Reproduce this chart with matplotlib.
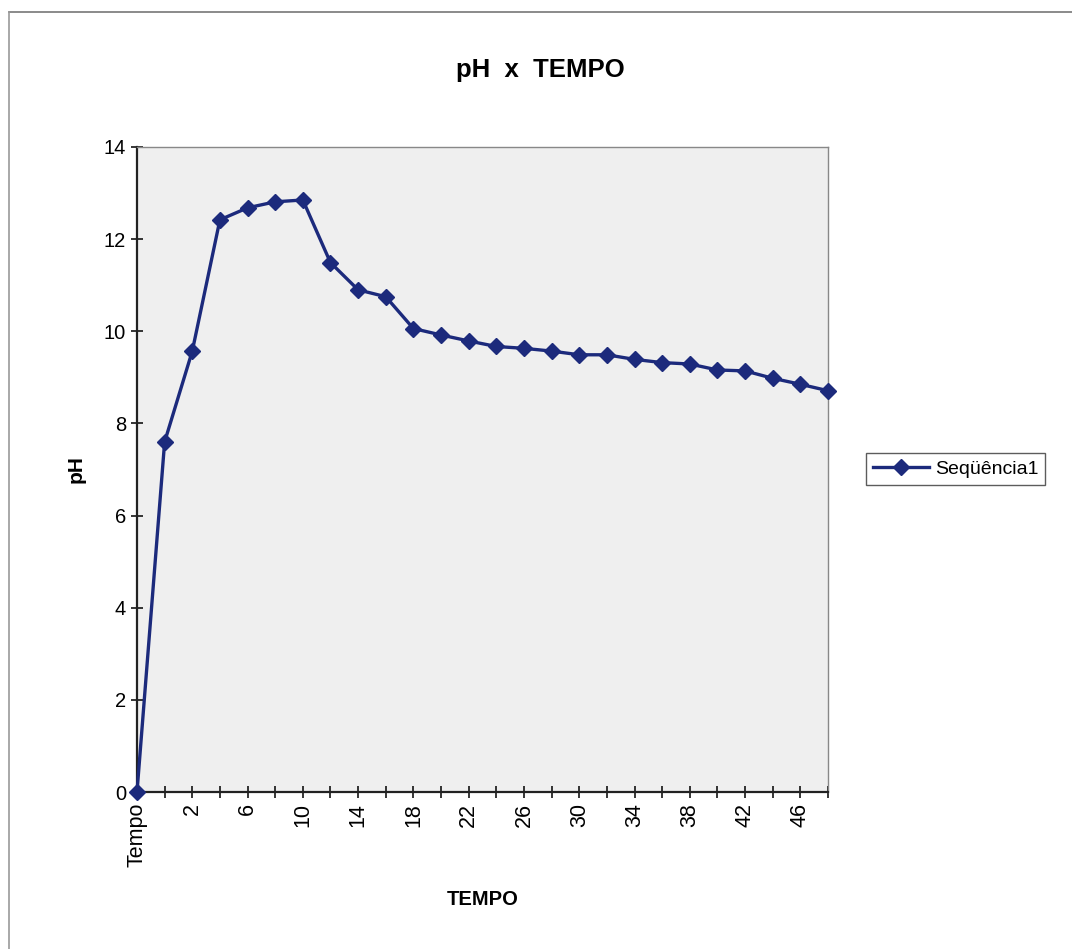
import matplotlib
matplotlib.use("Agg")
import matplotlib.pyplot as plt
from matplotlib.lines import Line2D

plt.rcParams['font.family'] = ['Liberation Sans', 'DejaVu Sans']

# Categories: header cell followed by time readings
categories = ["Tempo"] + [str(t) for t in range(0, 50, 2)]
ph_values = [0.0, 7.60, 9.57, 12.42, 12.68, 12.81, 12.85, 11.49, 10.90, 10.75,
             10.06, 9.92, 9.79, 9.67, 9.63, 9.57, 9.49, 9.49, 9.39, 9.32,
             9.29, 9.16, 9.14, 8.98, 8.85, 8.71]
series_name = "Seqüência1"
y_ticks = [0, 2, 4, 6, 8, 10, 12, 14]

W, H = 1072, 949
fig = plt.figure(figsize=(W / 100, H / 100), dpi=100)
fig.patch.set_facecolor("white")

ax = fig.add_axes([137 / W, 1 - 792 / H, (828 - 137) / W, (792 - 147) / H])
ax.set_facecolor("#efefef")

x = list(range(len(categories)))
line_color = "#1c2a7c"
ax.plot(x, ph_values, color=line_color, lw=2.4, marker="D", markersize=8,
        markerfacecolor=line_color, markeredgecolor=line_color,
        label=series_name, clip_on=False, zorder=5)

ax.set_xlim(0, len(categories) - 1)
ax.set_ylim(0, 14)
ax.set_yticks(y_ticks)
ax.set_yticklabels([str(v) for v in y_ticks])
ax.set_xticks(x)
ax.set_xticklabels([c if i % 2 == 0 else "" for i, c in enumerate(categories)],
                   rotation=90)

ax.tick_params(axis="both", direction="inout", length=8, width=1.1,
               colors="black")
ax.tick_params(axis="x", pad=4, labelsize=15.5)
ax.tick_params(axis="y", pad=4, labelsize=14.5)

for side in ("left", "bottom"):
    ax.spines[side].set_color("#222222")
    ax.spines[side].set_linewidth(1.6)
for side in ("top", "right"):
    ax.spines[side].set_color("#888888")
    ax.spines[side].set_linewidth(1.0)

ax.set_ylabel("pH", fontsize=15, fontweight="bold", labelpad=13)
ax.set_xlabel("TEMPO", fontsize=14.5, fontweight="bold", labelpad=16)

fig.text(540 / W, 1 - 70 / H, "pH  x  TEMPO", fontsize=18.5, fontweight="bold",
         ha="center", va="center")

leg = fig.legend(handles=[Line2D([0], [0], color=line_color, lw=2.4, marker="D",
                                 markersize=8)],
                 labels=[series_name], loc="center left",
                 bbox_to_anchor=(866 / W, 1 - 469 / H), fontsize=14,
                 frameon=True, fancybox=False, handlelength=2.9,
                 borderpad=0.35, handletextpad=0.3, borderaxespad=0)
leg.get_frame().set_edgecolor("#333333")
leg.get_frame().set_linewidth(1.0)

# Chart area border (top and left edges)
fig.add_artist(Line2D([9 / W, 1], [1 - 12 / H, 1 - 12 / H], color="#777777",
                      lw=1.2, transform=fig.transFigure))
fig.add_artist(Line2D([9 / W, 9 / W], [0, 1 - 12 / H], color="#999999",
                      lw=1.2, transform=fig.transFigure))

fig.savefig("out.png", dpi=100)
